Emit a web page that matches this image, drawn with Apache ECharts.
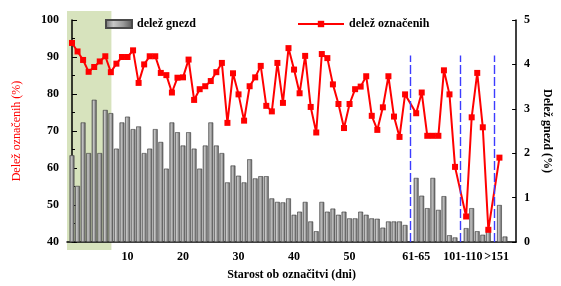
<!DOCTYPE html>
<html lang="sl">
<head>
<meta charset="UTF-8">
<title>Delež označenih in delež gnezd glede na starost</title>
<script src="https://cdn.jsdelivr.net/npm/echarts@6/dist/echarts.min.js"></script>
<style>
    html, body { margin: 0; padding: 0; background: #fff; }
    #main { width: 561px; height: 286px; }
</style>
</head>
<body>
<div id="main"></div>
<script type="text/javascript">
    // kategorije na osi x: dnevi 0-60, prazno mesto, 5-dnevni razredi, prazno, 10-dnevni razredi, prazno, >151
    var categories = [];
    for (var d = 0; d <= 60; d++) categories.push(String(d));
    categories = categories.concat(['', '61-65', '66-70', '71-75', '76-80', '81-85', '86-90', '91-95', '96-100',
        '', '101-110', '111-120', '121-130', '131-140', '141-150', '', '>151', '']);

    // delež gnezd (%) - desna os, stolpci
    var nestShare = [
        1.95, 1.26, 2.69, 2.00, 3.20, 2.00, 2.97, 2.90, 2.10, 2.69,
        2.82, 2.54, 2.60, 2.00, 2.10, 2.54, 2.25, 1.65, 2.69, 2.47,
        2.17, 2.47, 2.10, 1.65, 2.17, 2.69, 2.17, 2.00, 1.34, 1.72,
        1.49, 1.34, 1.86, 1.43, 1.48, 1.48, 0.98, 0.90, 0.89, 0.98,
        0.61, 0.68, 0.90, 0.46, 0.24, 0.90, 0.68, 0.75, 0.61, 0.68,
        0.53, 0.53, 0.68, 0.61, 0.53, 0.52, 0.32, 0.46, 0.46, 0.46,
        0.38,
        null,
        1.44, 1.04, 0.76, 1.44, 0.72, 1.03, 0.15, 0.10,
        null,
        0.31, 0.76, 0.24, 0.16, 0.31,
        null,
        0.83, 0.12
    ];

    // delež označenih (%) - leva os, črta
    var markedShare = [
        93.8, 91.5, 89.2, 86.0, 87.3, 88.8, 90.2, 85.9, 88.2, 90.0,
        90.0, 91.8, 83.0, 88.0, 90.2, 90.2, 85.7, 85.1, 80.4, 84.4,
        84.5, 89.3, 78.4, 81.3, 82.1, 83.5, 85.9, 88.4, 72.2, 85.6,
        79.9, 72.8, 82.1, 84.5, 87.6, 76.8, 75.3, 88.4, 77.6, 92.4,
        86.6, 80.2, 90.3, 76.5, 69.6, 90.8, 89.7, 82.6, 77.3, 70.8,
        77.3, 81.3, 82.0, 84.8, 74.1, 70.3, 76.4, 84.8, 73.9, 68.4,
        79.9,
        null,
        74.8, 80.4, 68.7, 68.7, 68.7, 86.4, 79.9, 60.3,
        null,
        46.9, 73.7, 85.7, 71.0, 43.3,
        null,
        62.8
    ];

    // oznake na osi x
    var xTickPos = [10, 20, 30, 40, 50, 62, 70.4, 76.5];
    var xTickText = ['10', '20', '30', '40', '50', '61-65', '101-110', '>151'];

    // ločnice med razredi (modre črtkane) in zeleno območje
    var separators = [61, 70, 76];
    var separatorTop = 90.4;
    var greenSpan = [-0.9, 7.1];

    var font = 'Liberation Serif, Times New Roman, serif';

    var myChart = echarts.init(document.getElementById('main'));

    var barColor = new echarts.graphic.LinearGradient(0, 0, 1, 0, [
        {offset: 0, color: '#6c6c6c'},
        {offset: 0.3, color: '#c8c8c8'},
        {offset: 0.65, color: '#9a9a9a'},
        {offset: 1, color: '#545454'}
    ]);

    var option = {
        animation: false,
        grid: {left: 67, right: 41, top: 20, bottom: 42},
        legend: [
            {
                data: ['delež gnezd'],
                left: 105, top: 18, padding: 0,
                icon: 'rect',
                itemWidth: 26, itemHeight: 8,
                textStyle: {fontFamily: font, fontWeight: 'bold', fontSize: 12, color: '#000'}
            },
            {
                data: ['delež označenih'],
                left: 297, top: 18, padding: 0,
                itemWidth: 46, itemHeight: 8,
                textStyle: {fontFamily: font, fontWeight: 'bold', fontSize: 12, color: '#000'}
            }
        ],
        xAxis: {
            type: 'value',
            min: greenSpan[0],
            max: 80,
            splitLine: {show: false},
            axisTick: {show: false},
            axisLine: {show: true, onZero: false, lineStyle: {color: '#000', width: 1.5}},
            axisLabel: {
                customValues: xTickPos,
                formatter: function (v) {
                    var i = xTickPos.indexOf(v);
                    return i >= 0 ? xTickText[i] : '';
                },
                fontFamily: font, fontWeight: 'bold', fontSize: 12, color: '#000', margin: 9
            },
            name: 'Starost ob označitvi (dni)',
            nameLocation: 'middle',
            nameGap: 27,
            nameTextStyle: {fontFamily: font, fontWeight: 'bold', fontSize: 12, color: '#000'}
        },
        yAxis: [
            {
                type: 'value',
                position: 'left',
                min: 40, max: 100, interval: 10,
                splitLine: {show: false},
                axisLine: {show: true, lineStyle: {color: '#000', width: 1.5}},
                axisTick: {show: true, inside: true, length: 5, lineStyle: {color: '#000'}},
                minorTick: {show: true, splitNumber: 2, length: 3, lineStyle: {color: '#000'}},
                axisLabel: {fontFamily: font, fontWeight: 'bold', fontSize: 12, color: '#000', margin: 8},
                name: 'Delež označenih (%)',
                nameLocation: 'middle',
                nameGap: 44,
                nameTextStyle: {fontFamily: font, fontSize: 12, color: '#ff0000'}
            },
            {
                type: 'value',
                position: 'right',
                min: 0, max: 5, interval: 1,
                splitLine: {show: false},
                axisLine: {show: true, lineStyle: {color: '#000', width: 1.5}},
                axisTick: {show: true, inside: true, length: 4, lineStyle: {color: '#000'}},
                axisLabel: {fontFamily: font, fontWeight: 'bold', fontSize: 12, color: '#000', margin: 8},
                name: 'Delež gnezd (%)',
                nameLocation: 'middle',
                nameRotate: -90,
                nameGap: 22,
                nameTextStyle: {fontFamily: font, fontWeight: 'bold', fontSize: 12, color: '#000'}
            }
        ],
        series: [
            {
                name: 'delež gnezd',
                type: 'bar',
                yAxisIndex: 1,
                barWidth: 4.6,
                itemStyle: {color: barColor, borderColor: '#4a4a4a', borderWidth: 0.4},
                data: nestShare.map(function (v, i) { return [i, v]; })
            },
            {
                name: 'delež označenih',
                type: 'line',
                yAxisIndex: 0,
                connectNulls: true,
                symbol: 'rect',
                symbolSize: 6,
                itemStyle: {color: '#ff0000'},
                lineStyle: {color: '#ff0000', width: 2},
                data: markedShare.map(function (v, i) { return [i, v]; }),
                markLine: {
                    silent: true,
                    symbol: 'none',
                    label: {show: false},
                    lineStyle: {color: '#3c3cff', width: 1.4, type: [9, 3]},
                    data: separators.map(function (s) {
                        return [{coord: [s, 40]}, {coord: [s, separatorTop]}];
                    })
                }
            }
        ]
    };

    myChart.setOption(option);

    // zeleno ozadje za prve dni, malo čez rob risalne površine
    var gx0 = myChart.convertToPixel({xAxisIndex: 0}, greenSpan[0]);
    var gx1 = myChart.convertToPixel({xAxisIndex: 0}, greenSpan[1]);
    var gyTop = myChart.convertToPixel({yAxisIndex: 0}, 100);
    var gyBot = myChart.convertToPixel({yAxisIndex: 0}, 40);
    myChart.setOption({
        graphic: [{
            type: 'rect',
            z: -1,
            silent: true,
            shape: {x: gx0, y: gyTop - 9, width: gx1 - gx0, height: gyBot - gyTop + 17},
            style: {fill: '#d7e3bd'}
        }]
    });
</script>
</body>
</html>
